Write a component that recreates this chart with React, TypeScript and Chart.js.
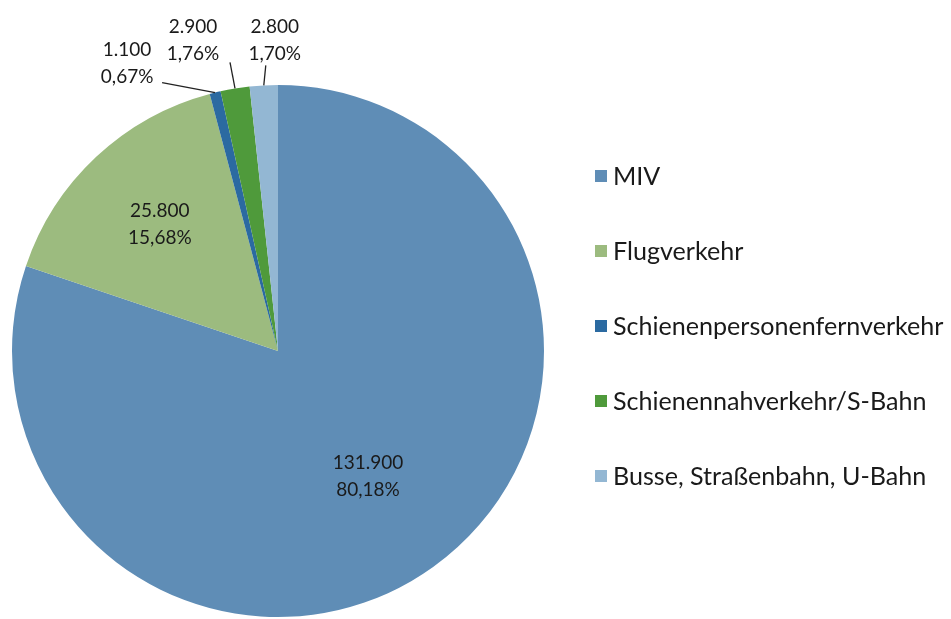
import React, { useEffect, useRef } from "react";
import { Chart, registerables } from "chart.js";

Chart.register(...registerables);

const categories = [
  "MIV",
  "Flugverkehr",
  "Schienenpersonenfernverkehr",
  "Schienennahverkehr/S-Bahn",
  "Busse, Straßenbahn, U-Bahn",
];
const values = [131900, 25800, 1100, 2900, 2800];
const valueLabels = ["131.900", "25.800", "1.100", "2.900", "2.800"];
const percentLabels = ["80,18%", "15,68%", "0,67%", "1,76%", "1,70%"];
const colors = ["#5f8db6", "#9cbb7f", "#2b6aa1", "#4f9a3b", "#93b7d3"];

const LABEL_FONT = "19px Lato, 'Open Sans', sans-serif";
const TEXT_COLOR = "#1a1a1a";

const labelPlugin = {
  id: "sliceLabels",
  afterDatasetsDraw(chart: any) {
    const ctx = chart.ctx;
    const meta = chart.getDatasetMeta(0);
    ctx.save();
    ctx.font = LABEL_FONT;
    ctx.fillStyle = TEXT_COLOR;
    ctx.textAlign = "center";
    ctx.textBaseline = "middle";
    const lineGap = 27;
    const inside: Record<number, number> = { 0: 0.58, 1: 0.65 };
    // outside: [lineEndDx, lineEndDy, textDx, textDy]
    const outside: Record<number, number[]> = {
      2: [-53, -10, -88, -29],
      3: [-5, -26, -42, -48],
      4: [2, -20, 11, -45],
    };
    meta.data.forEach((arc: any, i: number) => {
      const mid = (arc.startAngle + arc.endAngle) / 2;
      const r = arc.outerRadius;
      if (inside[i] !== undefined) {
        const d = r * inside[i];
        const x = arc.x + Math.cos(mid) * d;
        const y = arc.y + Math.sin(mid) * d;
        ctx.fillText(valueLabels[i], x, y - lineGap / 2);
        ctx.fillText(percentLabels[i], x, y + lineGap / 2);
      } else if (outside[i]) {
        const [lx, ly, tx, ty] = outside[i];
        const px = arc.x + Math.cos(mid) * r;
        const py = arc.y + Math.sin(mid) * r;
        ctx.strokeStyle = "#222";
        ctx.lineWidth = 1.3;
        ctx.beginPath();
        ctx.moveTo(px, py);
        ctx.lineTo(px + lx, py + ly);
        ctx.stroke();
        ctx.fillText(valueLabels[i], px + tx, py + ty - lineGap / 2);
        ctx.fillText(percentLabels[i], px + tx, py + ty + lineGap / 2);
      }
    });
    ctx.restore();
  },
};

const legendPlugin = {
  id: "customLegend",
  afterDraw(chart: any) {
    const ctx = chart.ctx;
    ctx.save();
    let size = 20;
    ctx.font = `${size}px Lato, 'Open Sans', sans-serif`;
    const w = ctx.measureText("Schienenpersonenfernverkehr").width;
    size = Math.round(((size * 330) / w) * 10) / 10;
    ctx.font = `${size}px Lato, 'Open Sans', sans-serif`;
    ctx.textAlign = "left";
    ctx.textBaseline = "middle";
    const x0 = 595;
    const y0 = 176;
    const step = 75;
    categories.forEach((c, i) => {
      const y = y0 + i * step;
      ctx.fillStyle = colors[i];
      ctx.fillRect(x0, y - 6, 12, 12);
      ctx.fillStyle = TEXT_COLOR;
      ctx.fillText(c, x0 + 18, y + 1);
    });
    ctx.restore();
  },
};

export default function App() {
  const ref = useRef<HTMLCanvasElement | null>(null);
  useEffect(() => {
    if (!ref.current) return;
    const chart = new Chart(ref.current, {
      type: "pie",
      data: {
        labels: categories,
        datasets: [
          {
            data: values,
            backgroundColor: colors,
            borderWidth: 0,
          },
        ],
      },
      options: {
        animation: false,
        responsive: false,
        devicePixelRatio: 1,
        layout: { padding: { left: 12, top: 85, right: 407, bottom: 2 } },
        plugins: {
          legend: { display: false },
          tooltip: { enabled: false },
        },
      },
      plugins: [labelPlugin, legendPlugin],
    });
    return () => chart.destroy();
  }, []);
  return (
    <div style={{ position: "absolute", left: 0, top: 0, width: 951, height: 619, background: "#fff" }}>
      <canvas ref={ref} width={951} height={619} />
    </div>
  );
}
